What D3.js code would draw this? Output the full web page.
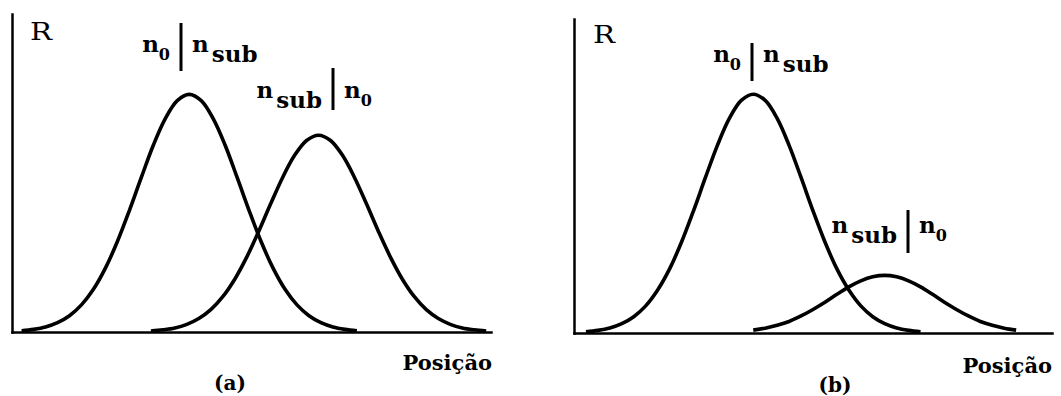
<!DOCTYPE html>
<html>
<head>
<meta charset="utf-8">
<script src="https://cdn.jsdelivr.net/npm/d3@7"></script>
<style>
  html, body { margin: 0; padding: 0; background: #fff; }
  svg { display: block; }
  .lbl { font-family: "DejaVu Serif", serif; font-weight: bold; fill: #000; }
</style>
</head>
<body>
<svg id="chart" width="1061" height="396"></svg>
<script>
// Reflectance profiles R along the position axis (arbitrary units 0–100)
const posA1 = [2, 4.5, 7, 9.5, 12, 14.5, 17, 19.5, 22, 24.5, 27, 29.5, 32, 34.5, 37,
               39.5, 42, 44.5, 47, 49.5, 52, 54.5, 57, 59.5, 62, 64.5, 67, 69.5, 72];
const rA1   = [0.005, 0.011, 0.021, 0.039, 0.068, 0.113, 0.178, 0.266, 0.377, 0.506, 0.644, 0.778, 0.889, 0.964, 0.990,
               0.964, 0.889, 0.778, 0.644, 0.506, 0.377, 0.266, 0.178, 0.113, 0.068, 0.039, 0.021, 0.011, 0.005];

const posA2 = [29, 31.5, 34, 36.5, 39, 41.5, 44, 46.5, 49, 51.5, 54, 56.5, 59, 61.5, 64,
               66.5, 69, 71.5, 74, 76.5, 79, 81.5, 84, 86.5, 89, 91.5, 94, 96.5, 99];
const rA2   = [0.004, 0.009, 0.017, 0.032, 0.056, 0.093, 0.147, 0.220, 0.312, 0.419, 0.534, 0.644, 0.736, 0.798, 0.820,
               0.798, 0.736, 0.644, 0.534, 0.419, 0.312, 0.220, 0.147, 0.093, 0.056, 0.032, 0.017, 0.009, 0.004];

const posB1 = [2.5, 5, 7.5, 10, 12.5, 15, 17.5, 20, 22.5, 25, 27.5, 30, 32.5, 35, 37.5,
               40, 42.5, 45, 47.5, 50, 52.5, 55, 57.5, 60, 62.5, 65, 67.5, 70, 72.5];
const rB1   = [0.005, 0.011, 0.021, 0.039, 0.068, 0.113, 0.179, 0.267, 0.379, 0.509, 0.648, 0.782, 0.894, 0.969, 0.995,
               0.969, 0.894, 0.782, 0.648, 0.509, 0.379, 0.267, 0.179, 0.113, 0.068, 0.039, 0.021, 0.011, 0.005];

const posB2 = [37.5, 40, 42.5, 45, 47.5, 50, 52.5, 55, 57.5, 60, 62.5, 65,
               67.5, 70, 72.5, 75, 77.5, 80, 82.5, 85, 87.5, 90, 92.5];
const rB2   = [0.012, 0.020, 0.032, 0.048, 0.071, 0.098, 0.128, 0.161, 0.192, 0.217, 0.234, 0.240,
               0.234, 0.217, 0.192, 0.161, 0.128, 0.098, 0.071, 0.048, 0.032, 0.020, 0.012];

const axisTitleY = "R";
const axisTitleX = "Posição";
const panelTags = ["(a)", "(b)"];

const zip = (xs, ys) => xs.map((x, i) => ({ x, r: ys[i] }));

const panels = [
  {
    tag: panelTags[0],
    curves: [zip(posA1, rA1), zip(posA2, rA2)],
    x0: 12, x1: 491, base: 332, one: 92, top: 14,
    rLabel: [30, 40], xLabel: [492, 370], tagPos: [230, 390],
    labels: [
      { bx: 181, t: 23, b: 71, y: 52, left: ["n", "0"], right: ["n", "sub"] },
      { bx: 333, t: 68, b: 110, y: 98, left: ["n", "sub"], right: ["n", "0"] }
    ]
  },
  {
    tag: panelTags[1],
    curves: [zip(posB1, rB1), zip(posB2, rB2)],
    x0: 574, x1: 1052, base: 333, one: 93, top: 19,
    rLabel: [593, 43], xLabel: [1052, 373], tagPos: [835, 392],
    labels: [
      { bx: 752, t: 43, b: 81, y: 62, left: ["n", "0"], right: ["n", "sub"] },
      { bx: 908, t: 210, b: 253, y: 233, left: ["n", "sub"], right: ["n", "0"] }
    ]
  }
];

const svg = d3.select("#chart");
svg.append("rect").attr("width", 1061).attr("height", 396).attr("fill", "#fff");

function subTspan(sel, s) {
  // digit subscripts are smaller; "sub" keeps the full size
  if (s === "0") sel.append("tspan").attr("font-size", 16).attr("dy", 8).attr("dx", 0).text(s);
  else sel.append("tspan").attr("dy", 10).attr("dx", 3).text(s);
}

panels.forEach(p => {
  const g = svg.append("g");
  const x = d3.scaleLinear().domain([0, 100]).range([p.x0, p.x1]);
  const y = d3.scaleLinear().domain([0, 1]).range([p.base, p.one]);
  const yAxisScale = d3.scaleLinear().domain([0, y.invert(p.top)]).range([p.base, p.top]);

  // axes: plain lines, no ticks
  const xAxis = g.append("g").attr("transform", `translate(0,${p.base})`)
    .call(d3.axisBottom(x).tickValues([]).tickSizeOuter(0));
  const yAxis = g.append("g").attr("transform", `translate(${p.x0},0)`)
    .call(d3.axisLeft(yAxisScale).tickValues([]).tickSizeOuter(0));
  [xAxis, yAxis].forEach(a => a.select(".domain")
    .attr("stroke", "#000").attr("stroke-width", 2.5).attr("stroke-linecap", "square"));

  const line = d3.line()
    .x(d => x(d.x)).y(d => y(d.r))
    .curve(d3.curveCatmullRom.alpha(0.5));

  p.curves.forEach(c => {
    g.append("path").datum(c)
      .attr("d", line)
      .attr("fill", "none")
      .attr("stroke", "#000")
      .attr("stroke-width", 3.6)
      .attr("stroke-linejoin", "round");
  });

  // axis titles and panel tag
  g.append("text").attr("x", p.rLabel[0]).attr("y", p.rLabel[1])
    .attr("font-family", "DejaVu Serif, serif").attr("font-size", 25)
    .attr("textLength", 22).attr("lengthAdjust", "spacingAndGlyphs")
    .text(axisTitleY);
  g.append("text").attr("class", "lbl").attr("x", p.xLabel[0]).attr("y", p.xLabel[1])
    .attr("text-anchor", "end").attr("font-size", 21).text(axisTitleX);
  g.append("text").attr("class", "lbl").attr("x", p.tagPos[0]).attr("y", p.tagPos[1])
    .attr("text-anchor", "middle").attr("font-size", 20).text(p.tag);

  // interface labels: medium on each side of a vertical bar
  p.labels.forEach(l => {
    g.append("line").attr("x1", l.bx).attr("x2", l.bx).attr("y1", l.t).attr("y2", l.b)
      .attr("stroke", "#000").attr("stroke-width", 3);
    const lt = g.append("text").attr("class", "lbl").attr("font-size", 23)
      .attr("x", l.bx - 11).attr("y", l.y).attr("text-anchor", "end");
    lt.append("tspan").text(l.left[0]);
    subTspan(lt, l.left[1]);
    const rt = g.append("text").attr("class", "lbl").attr("font-size", 23)
      .attr("x", l.bx + 11).attr("y", l.y).attr("text-anchor", "start");
    rt.append("tspan").text(l.right[0]);
    subTspan(rt, l.right[1]);
  });
});
</script>
</body>
</html>
